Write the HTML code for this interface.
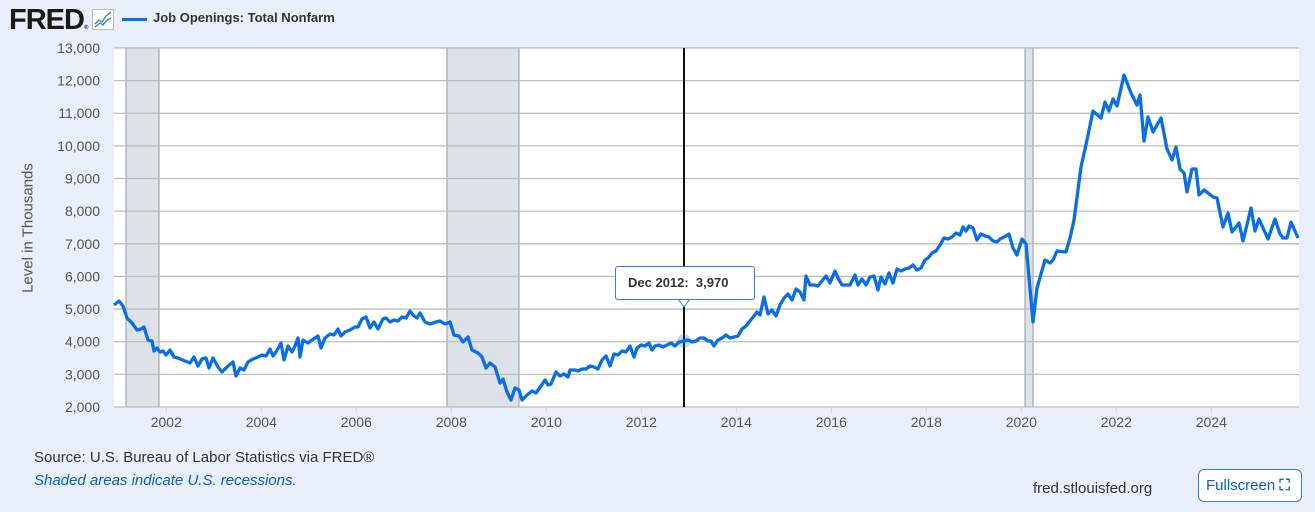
<!DOCTYPE html>
<html><head><meta charset="utf-8"><style>
body{margin:0;width:1315px;height:512px;background:#e9eff8;font-family:"Liberation Sans",sans-serif;overflow:hidden;position:relative}
.t{position:absolute;white-space:nowrap}
</style></head><body>
<div class="t" style="left:9px;top:4px;font-size:29px;font-weight:900;color:#1a1a1a;letter-spacing:-1px">FRED<span style="font-size:6px">®</span></div>
<svg class="t" style="left:92px;top:9px" width="22" height="21"><rect x="0.5" y="0.5" width="21" height="20" fill="#fff" stroke="#bbb"/><polyline points="3,15 7,11 10,13 14,7 19,3" fill="none" stroke="#3a7bd5" stroke-width="1.3"/><polyline points="3,18 8,14 11,16 15,11 19,9" fill="none" stroke="#2a9a6a" stroke-width="1.3"/></svg>
<div class="t" style="left:122px;top:18px;width:25px;height:3px;background:#0a6ee6"></div>
<div class="t" style="left:153px;top:10px;font-size:13px;font-weight:bold;color:#333">Job Openings: Total Nonfarm</div>
<svg class="t" style="left:0;top:0" width="1315" height="440" id="s"></svg>
<div class="t" style="left:16px;top:228px;transform:translate(-50%,-50%) rotate(-90deg);left:28px;font-size:15px;color:#555">Level in Thousands</div>
<div class="t" style="left:615px;top:266px;width:140px;height:34px;background:#fff;border:1px solid #3a7bd5;border-radius:3px;box-sizing:border-box;font-size:13px;font-weight:bold;color:#333;line-height:32px;padding-left:12px">Dec 2012:&nbsp;&nbsp;3,970</div>
<div class="t" style="left:34px;top:449px;font-size:15px;color:#333">Source: U.S. Bureau of Labor Statistics via FRED®</div>
<div class="t" style="left:34px;top:472px;font-size:15px;color:#0a5fc4;font-style:italic">Shaded areas indicate U.S. recessions.</div>
<div class="t" style="left:1033px;top:480px;font-size:15px;color:#333">fred.stlouisfed.org</div>
<div class="t" style="left:1198px;top:469px;width:104px;height:33px;border:1px solid #3a7bd5;border-radius:6px;box-sizing:border-box;background:#fff;font-size:15px;color:#0a5fc4;line-height:31px;padding-left:7px">Fullscreen <span style="font-weight:bold">⛶</span></div>
<script>
var s=document.getElementById('s'),h='';
var L=114,R=1299;
h+='<rect x="'+L+'" y="48" width="'+(R-L)+'" height="359" fill="#fff"/>';
[[126,159],[447,519],[1025,1033]].forEach(function(r){h+='<rect x="'+r[0]+'" y="48" width="'+(r[1]-r[0])+'" height="359" fill="#dde1e8"/><line x1="'+r[0]+'" y1="48" x2="'+r[0]+'" y2="407" stroke="#999"/><line x1="'+r[1]+'" y1="48" x2="'+r[1]+'" y2="407" stroke="#999"/>';});
for(var i=0;i<=11;i++){var y=407-i*32.64,v=2000+i*1000;h+='<line x1="'+L+'" y1="'+y+'" x2="'+R+'" y2="'+y+'" stroke="#bdbdbd" stroke-width="1.3"/>';h+='<text x="100" y="'+(y+5)+'" text-anchor="end" font-size="14" fill="#555">'+(v/1000|0)+',000</text>';}
for(var yr=2002;yr<=2024;yr+=2){var x=166.3+(yr-2002)*47.5;h+='<line x1="'+x+'" y1="407" x2="'+x+'" y2="413" stroke="#ccd6eb"/><text x="'+x+'" y="427" text-anchor="middle" font-size="14" fill="#555">'+yr+'</text>';}
h+='<line x1="684" y1="48" x2="684" y2="407" stroke="#111" stroke-width="2"/>';
var p=[114,305,119,301,123,306,127,318,132,323,137,330,141,329,144,327,148,340,152,341,154,351,157,348,160,352,163,351,166,355,170,350,174,357,178,358,185,361,190,363,194,357,198,366,202,359,206,358,209,368,213,358,218,367,222,372,228,366,233,362,236,376,240,368,244,370,248,362,253,359,258,357,262,355,266,356,270,349,273,356,276,352,281,343,284,360,288,346,292,352,295,346,298,338,300,357,303,340,308,343,312,340,318,336,321,348,325,338,330,334,334,335,338,329,341,336,345,332,350,330,355,327,358,327,362,319,366,317,370,328,374,322,378,329,383,319,386,318,390,322,394,320,398,321,402,317,406,318,410,311,414,316,417,318,420,313,425,322,430,324,436,322,440,321,445,324,450,322,454,335,459,336,463,342,468,337,472,350,478,353,482,357,486,368,490,363,495,367,500,383,503,379,507,392,511,400,515,388,519,390,522,400,527,395,532,391,536,393,541,386,545,380,548,385,551,384,556,372,560,376,564,374,568,377,570,370,575,370,578,371,582,369,586,369,590,366,594,367,598,369,602,360,606,356,610,366,614,354,618,355,622,351,626,352,630,346,634,357,637,348,641,345,645,346,649,343,652,350,655,346,659,345,663,347,667,345,671,343,675,346,679,342,684,341,688,340,692,342,696,341,700,338,704,338,708,341,711,341,714,346,718,340,722,338,726,335,730,338,734,337,738,336,742,329,746,326,750,321,754,316,757,312,760,315,764,297,768,314,772,310,776,316,780,305,784,298,788,294,792,300,796,289,800,292,804,300,806,276,810,285,814,285,818,286,822,281,826,276,830,283,835,271,838,278,842,285,846,285,850,285,855,275,858,285,862,279,866,285,870,277,874,276,878,290,881,277,885,284,889,273,893,283,897,269,901,271,905,269,909,268,913,265,917,270,921,268,925,260,928,258,932,253,936,251,940,245,944,238,948,239,952,237,956,233,960,235,963,227,966,231,969,226,973,228,977,240,981,234,985,236,989,237,993,241,997,242,1000,239,1004,237,1009,234,1013,248,1017,255,1022,239,1026,244,1033,322,1037,288,1045,260,1050,263,1053,260,1057,251,1066,252,1070,238,1074,220,1081,167,1087,140,1093,111,1101,118,1105,102,1109,111,1113,99,1117,106,1124,75,1131,93,1137,105,1140,95,1144,141,1148,117,1153,132,1161,118,1167,149,1172,160,1176,147,1180,169,1184,173,1187,192,1192,169,1196,169,1199,195,1204,190,1208,193,1213,197,1217,198,1223,227,1228,213,1232,232,1239,223,1243,241,1251,208,1255,231,1259,219,1268,239,1275,219,1280,234,1283,238,1287,238,1291,222,1298,238];
h+='<polyline points="'+p.join(' ')+'" fill="none" stroke="#0a6ee6" stroke-width="3.3" stroke-linejoin="round"/>';
h+='<circle cx="684" cy="341" r="7" fill="#0a6ee6" fill-opacity="0.25"/>';
h+='<path d="M678 299 L684 307 L690 299" fill="#fff" stroke="#3a7bd5"/>';
s.innerHTML=h;
</script>
</body></html>
